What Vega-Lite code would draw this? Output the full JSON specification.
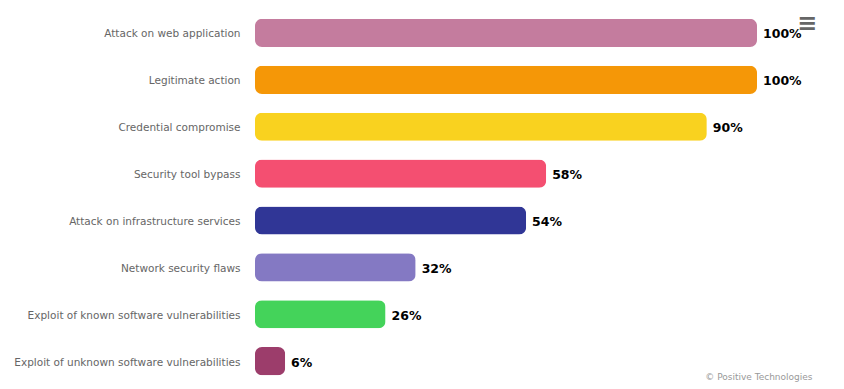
{
  "$schema": "https://vega.github.io/schema/vega-lite/v6.json",
  "width": 502,
  "height": 375,
  "autosize": {"type": "none"},
  "padding": {"left": 255, "top": 9.5, "right": 87, "bottom": 4.5},
  "background": "white",
  "config": {"view": {"stroke": null}},
  "title": {
    "text": "≡",
    "orient": "top",
    "anchor": "end",
    "frame": "group",
    "dx": 60,
    "dy": 30,
    "fontSize": 24,
    "font": "DejaVu Sans",
    "color": "#666666",
    "fontWeight": "bold"
  },
  "data": {
    "values": [
      {"category": "Attack on web application", "share": 1.0},
      {"category": "Legitimate action", "share": 1.0},
      {"category": "Credential compromise", "share": 0.9},
      {"category": "Security tool bypass", "share": 0.58},
      {"category": "Attack on infrastructure services", "share": 0.54},
      {"category": "Network security flaws", "share": 0.32},
      {"category": "Exploit of known software vulnerabilities", "share": 0.26},
      {"category": "Exploit of unknown software vulnerabilities", "share": 0.06}
    ]
  },
  "encoding": {
    "y": {
      "field": "category",
      "type": "nominal",
      "sort": null,
      "scale": {"paddingInner": 0.4, "paddingOuter": 0.2},
      "axis": {
        "title": null,
        "domain": false,
        "ticks": false,
        "labelPadding": 15,
        "labelOffset": 1.5,
        "labelFont": "DejaVu Sans",
        "labelFontSize": 10.5,
        "labelColor": "#666666",
        "labelLimit": 300
      }
    },
    "x": {
      "field": "share",
      "type": "quantitative",
      "scale": {"domain": [0, 1]},
      "axis": {
        "title": "© Positive Technologies",
        "titleAnchor": "end",
        "titleX": 557,
        "titleY": -8,
        "titleAlign": "right",
        "titleBaseline": "middle",
        "titleFont": "DejaVu Sans",
        "titleFontSize": 9,
        "titleFontWeight": "normal",
        "titleColor": "#999999",
        "labels": false,
        "ticks": false,
        "domain": false,
        "grid": false
      }
    }
  },
  "layer": [
    {
      "mark": {"type": "bar", "cornerRadius": 7},
      "encoding": {
        "color": {
          "field": "category",
          "type": "nominal",
          "sort": null,
          "legend": null,
          "scale": {
            "domain": [
              "Attack on web application",
              "Legitimate action",
              "Credential compromise",
              "Security tool bypass",
              "Attack on infrastructure services",
              "Network security flaws",
              "Exploit of known software vulnerabilities",
              "Exploit of unknown software vulnerabilities"
            ],
            "range": ["#c47c9e", "#f59707", "#f9d21f", "#f44f71", "#303696", "#8479c3", "#44d35a", "#9c3d6b"]
          }
        }
      }
    },
    {
      "mark": {"type": "text", "align": "left", "baseline": "middle", "dx": 6, "dy": 1.5, "font": "DejaVu Sans", "fontSize": 12.5, "fontWeight": "bold", "color": "#000000"},
      "encoding": {
        "text": {"field": "share", "type": "quantitative", "format": ".0%"}
      }
    }
  ]
}
